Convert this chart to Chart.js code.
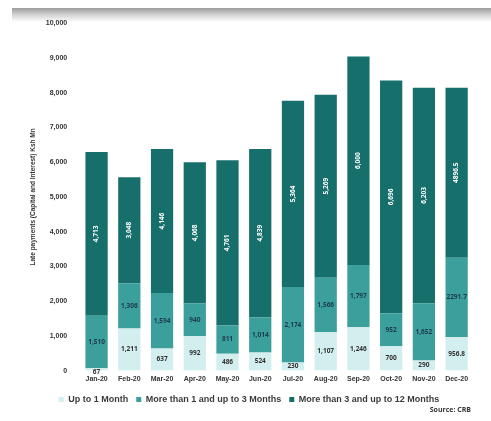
<!DOCTYPE html>
<html>
<head>
<meta charset="utf-8">
<script src="https://cdn.jsdelivr.net/npm/chart.js@4"></script>
<style>
  html, body { margin: 0; padding: 0; background: #fff; width: 491px; height: 421px; overflow: hidden; font-family: "Open Sans", "Liberation Sans", sans-serif; }
  #topbar { position: absolute; left: 12px; top: 8px; width: 479px; height: 14px; background: linear-gradient(to bottom, #9c9c9c, #cfcfcf 45%, #f2f2f2 85%, #ffffff); }
  #wrap { position: absolute; left: 0; top: 14px; width: 491px; height: 400px; }
  #source { position: absolute; right: 20px; top: 405px; font-size: 7px; font-weight: bold; color: #333; }
</style>
</head>
<body>
<div id="topbar"></div>
<div id="wrap"><canvas id="c"></canvas></div>
<div id="source">Source: CRB</div>
<script>
const months = ['Jan-20','Feb-20','Mar-20','Apr-20','May-20','Jun-20','Jul-20','Aug-20','Sep-20','Oct-20','Nov-20','Dec-20'];
const upTo1Month = [67, 1211, 637, 992, 486, 524, 230, 1107, 1246, 700, 290, 956.8];
const oneTo3Months = [1510, 1306, 1594, 940, 811, 1014, 2174, 1566, 1797, 952, 1652, 2291.7];
const threeTo12Months = [4713, 3048, 4146, 4068, 4761, 4839, 5364, 5269, 6000, 6696, 6203, 4896.5];
const seriesNames = ['Up to 1 Month', 'More than 1 and up to 3 Months', 'More than 3 and up to 12 Months'];
const yTicks = [0,1000,2000,3000,4000,5000,6000,7000,8000,9000,10000];

function fmt(v) {
  if (Number.isInteger(v)) return v.toLocaleString('en-US');
  return String(v);
}

const labelPlugin = {
  id: 'segLabels',
  afterDatasetsDraw(chart) {
    const ctx = chart.ctx;
    chart.data.datasets.forEach((ds, di) => {
      const meta = chart.getDatasetMeta(di);
      meta.data.forEach((bar, i) => {
        const v = ds.data[i];
        const top = Math.min(bar.y, bar.base), bot = Math.max(bar.y, bar.base);
        const cy = (top + bot) / 2;
        ctx.save();
        ctx.font = 'bold 6.5px "Open Sans", sans-serif';
        ctx.textAlign = 'center';
        ctx.textBaseline = 'middle';
        if (di === 2) {
          ctx.fillStyle = '#ffffff';
          ctx.translate(bar.x, cy);
          ctx.rotate(-Math.PI / 2);
          ctx.fillText(fmt(v), 0, 0);
        } else if (di === 1) {
          ctx.fillStyle = '#1d3b4f';
          ctx.fillText(fmt(v), bar.x, cy);
        } else {
          ctx.fillStyle = '#333333';
          ctx.fillText(fmt(v), bar.x, Math.max(cy, top + 4));
        }
        ctx.restore();
      });
    });
  }
};

new Chart(document.getElementById('c'), {
  type: 'bar',
  data: {
    labels: months,
    datasets: [
      { label: seriesNames[0], data: upTo1Month, backgroundColor: '#d3eeee' },
      { label: seriesNames[1], data: oneTo3Months, backgroundColor: '#3b9f9b' },
      { label: seriesNames[2], data: threeTo12Months, backgroundColor: '#176f6b' }
    ]
  },
  options: {
    responsive: true,
    maintainAspectRatio: false,
    animation: false,
    layout: { padding: { left: 25, right: 18, top: 9, bottom: 0 } },
    datasets: { bar: { barPercentage: 0.68, categoryPercentage: 1.0 } },
    plugins: {
      legend: {
        position: 'bottom',
        align: 'center',
        labels: { boxWidth: 5, boxHeight: 5, padding: 8, color: '#3a3a3a', font: { size: 9, weight: 'bold' } }
      },
      tooltip: { enabled: false }
    },
    scales: {
      x: {
        stacked: true,
        grid: { display: false, drawTicks: false },
        border: { display: false },
        ticks: { color: '#333', font: { size: 7, weight: 'bold' }, maxRotation: 0, autoSkip: false, padding: 4 }
      },
      y: {
        stacked: true,
        min: 0, max: 10000,
        grid: { display: false },
        border: { display: false },
        afterBuildTicks(axis) { axis.ticks = yTicks.map(v => ({ value: v })); },
        ticks: { color: '#333', font: { size: 7, weight: 'bold' }, padding: 5, callback: v => v.toLocaleString('en-US') },
        title: { display: true, text: 'Late payments (Capital and Interest) Ksh Mn', color: '#333', font: { size: 6.5, weight: 'bold' } }
      }
    }
  },
  plugins: [labelPlugin]
});
</script>
</body>
</html>
